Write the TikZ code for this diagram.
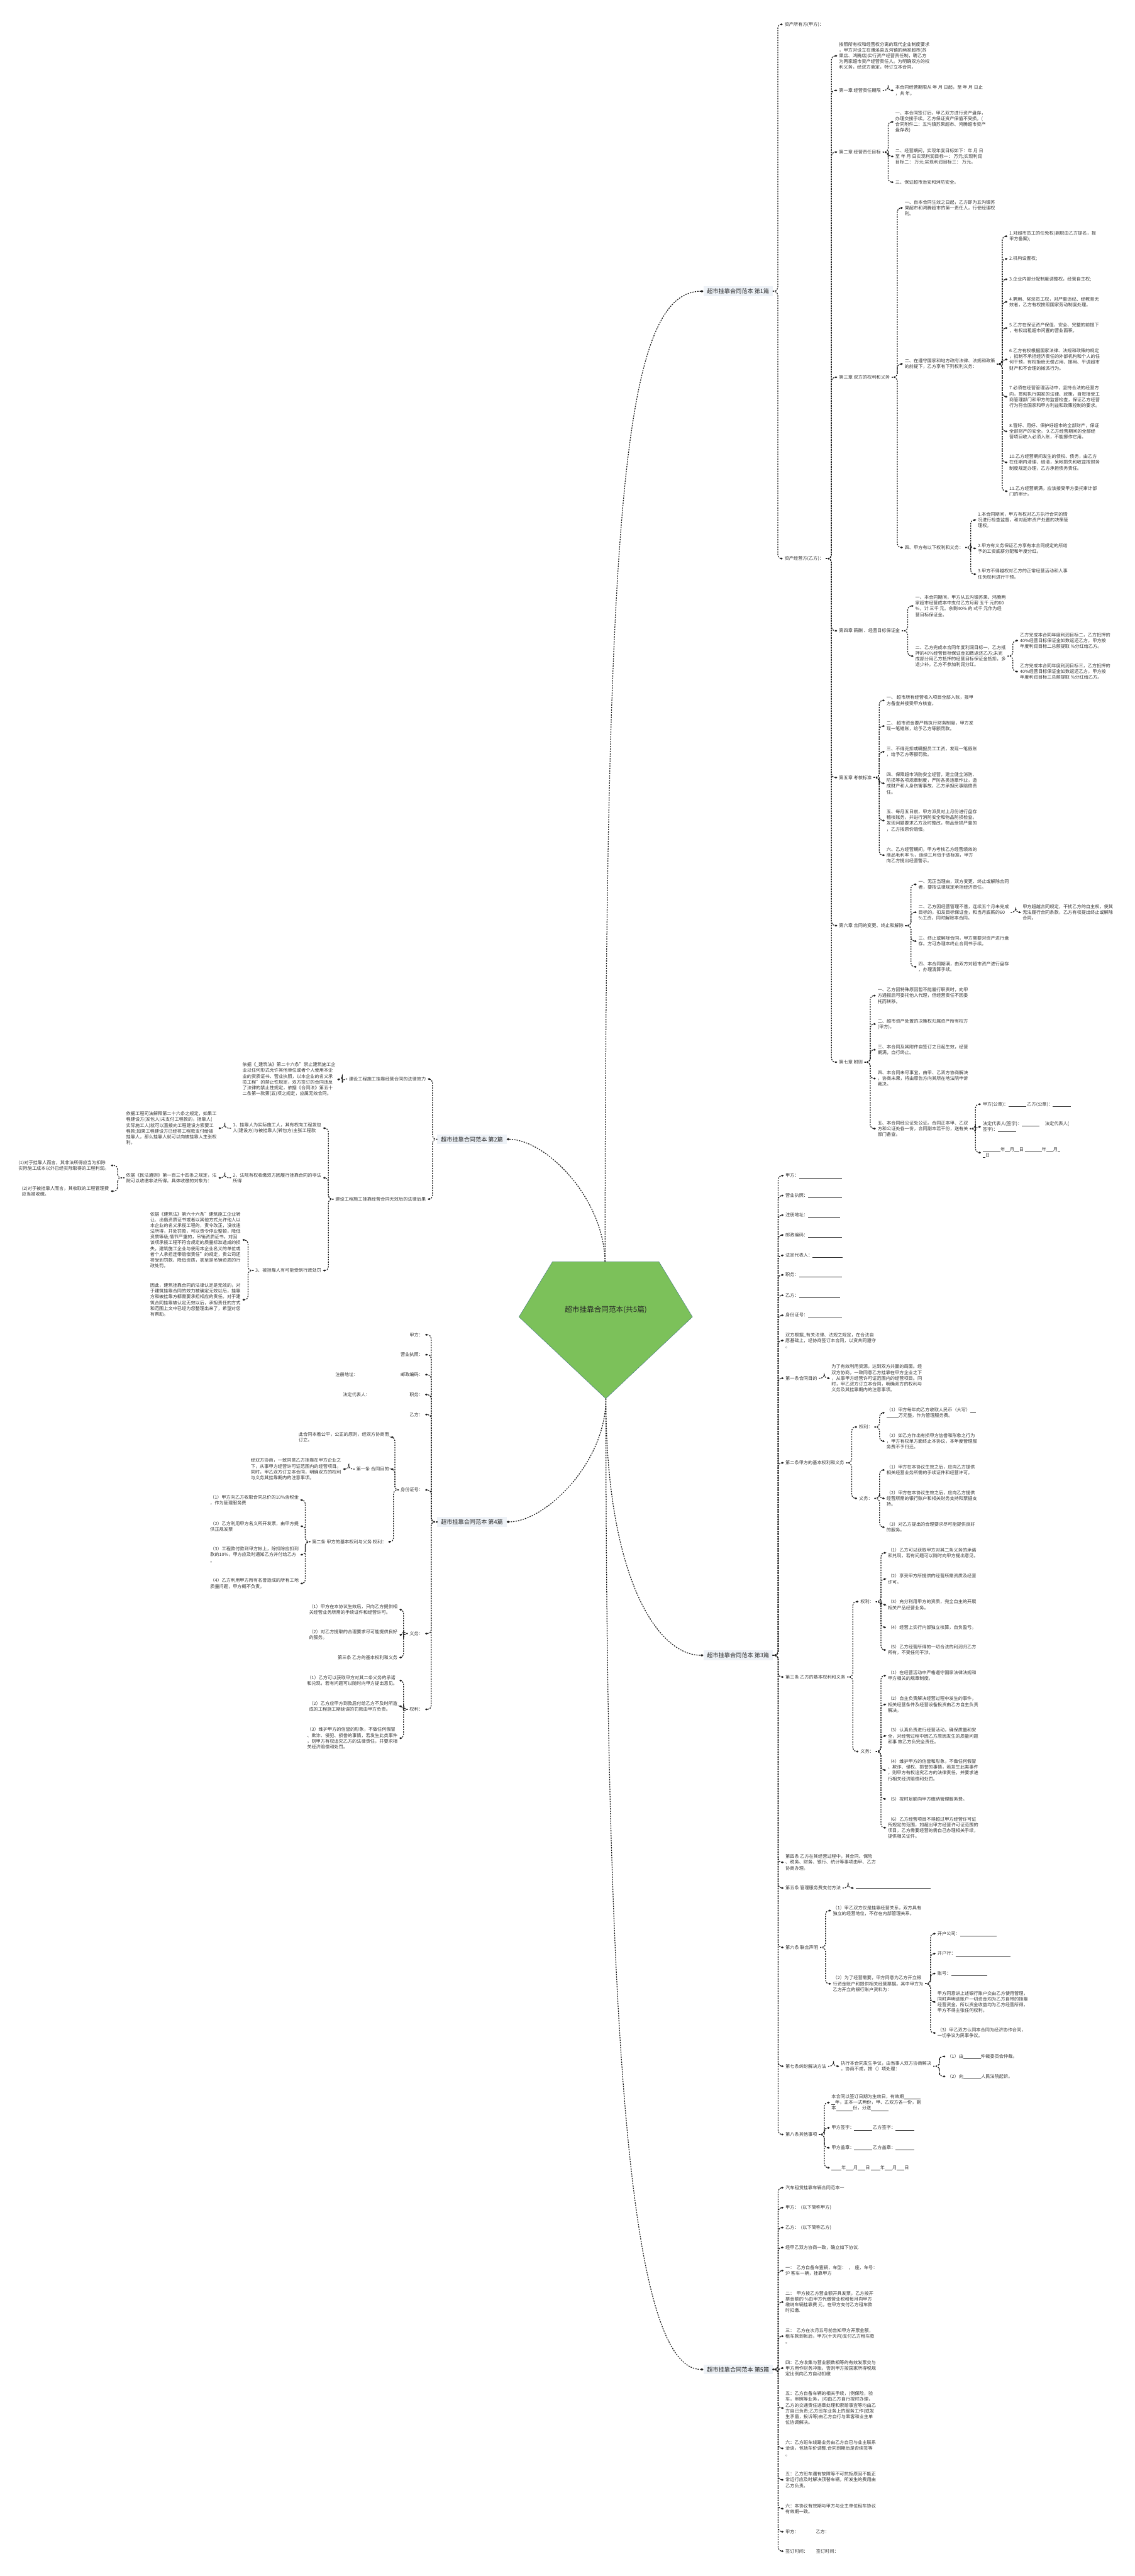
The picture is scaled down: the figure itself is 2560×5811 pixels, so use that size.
\documentclass[tikz,border=0pt]{standalone}
\usepackage{fontspec}
\setmainfont{Noto Sans CJK SC}
\usepackage{xcolor}
\usetikzlibrary{arrows.meta, calc}
\definecolor{txt}{HTML}{333333}
\definecolor{lnk}{HTML}{1E1E1E}
\definecolor{topicbg}{HTML}{EEF2F7}
\definecolor{rootfill}{HTML}{7CC15A}
\definecolor{rootline}{HTML}{3F6F86}
\newcommand\bl[1]{\rule[-1.5pt]{#1pt}{0.5pt}}

\begin{document}
\begin{tikzpicture}[x=1pt, y=-1pt,
  lf/.style={font=\fontsize{10.2}{13}\selectfont, text=txt, align=left, inner xsep=4pt, inner ysep=1pt, anchor=west},
  lfl/.style={lf, anchor=east},
  topic/.style={font=\fontsize{13}{16}\selectfont, text=black!85, fill=topicbg, inner xsep=8pt, inner ysep=5pt, anchor=west},
  topicl/.style={topic, anchor=east},
  link/.style={draw=lnk, line width=1.8pt, dash pattern=on 3pt off 2.5pt, rounded corners=8pt,
    -{Diamond[length=6pt,width=4.5pt]},
    to path={-| ($(\tikztostart)!.5!(\tikztotarget)$) |- (\tikztotarget)}},
  bond/.style={draw=lnk, line width=1.8pt, dash pattern=on 3pt off 2.5pt, -{Diamond[length=7pt,width=5.5pt]}}]
\useasboundingbox (0,0) rectangle (2560,5811);

% centre
\draw[fill=rootfill, draw=rootline, line width=0.6pt] (1246.6,2846) -- (1486.5,2846) -- (1562.3,2970.7) -- (1366.7,3155) -- (1170.8,2970.7) -- cycle;
\node[font=\fontsize{16.5}{20}\selectfont, text=black!85] (root) at (1367,2954) {超市挂靠合同范本(共5篇)};
\coordinate (rtop) at (1365,2846);
\coordinate (rbot) at (1367,3155);

\node[topic] (s1) at (1587,657) {超市挂靠合同范本 第1篇};
\node[topicl] (s2) at (1143,2570) {超市挂靠合同范本 第2篇};
\node[topic] (s3) at (1587,3734) {超市挂靠合同范本 第3篇};
\node[topicl] (s4) at (1143,3433) {超市挂靠合同范本 第4篇};
\node[topic] (s5) at (1587,5345) {超市挂靠合同范本 第5篇};

\draw[bond] (rtop) .. controls (1367,1200) and (1400,657) .. (s1.west);
\draw[bond] (rtop) .. controls (1362,2700) and (1230,2570) .. (s2.east);
\draw[bond] (rbot) .. controls (1367,3550) and (1480,3734) .. (s3.west);
\draw[bond] (rbot) .. controls (1367,3300) and (1230,3433) .. (s4.east);
\draw[bond] (rbot) .. controls (1367,4600) and (1420,5345) .. (s5.west);

% section 1
\node[lf] (s1a) at (1766,55) {资产所有方(甲方)：};
\node[lf] (s1b) at (1766,1260) {资产经营方(乙方)：};
\node[lf] (b0) at (1889,126) {按照所有权和经营权分离的现代企业制度要求\\，甲方对设立在濉溪县五沟镇的两家超市(苏\\果店、鸿腾店)实行资产经营责任制，聘乙方\\为两家超市资产经营责任人。为明确双方的权\\利义务，经双方商定，特订立本合同。};
\node[lf] (c1) at (1889,204) {第一章 经营责任期限};
\node[lf] (c1a) at (2016,204) {本合同经营期限从 年 月 日起，至 年 月 日止\\，共 年。};
\node[lf] (c2) at (1889,343) {第二章 经营责任目标};
\node[lf] (c2a) at (2016,275) {一、本合同签订后，甲乙双方进行资产盘存，\\办理交接手续。乙方保证资产保值不受损。(\\合同附件二：五沟镇苏果超市、鸿腾超市资产\\盘存表)};
\node[lf] (c2b) at (2016,353) {二、经营期间，实现年度目标如下：年 月 日\\至 年 月 日实现利润目标一： 万元;实现利润\\目标二： 万元;实现利润目标三： 万元。};
\node[lf] (c2c) at (2016,411) {三、保证超市治安和消防安全。};
\node[lf] (c3) at (1889,851) {第三章 双方的权利和义务};
\node[lf] (c3a) at (2037,469) {一、自本合同生效之日起，乙方即为五沟镇苏\\果超市和鸿腾超市的第一责任人，行使经理权\\利。};
\node[lf] (c3b) at (2037,821) {二、在遵守国家和地方政府法律、法规和政策\\的前提下，乙方享有下列权利义务：};
\node[lf] (r1) at (2273,533) {1.对超市员工的任免权(副职由乙方提名，报\\甲方备案);};
\node[lf] (r2) at (2273,584) {2.机构设置权;};
\node[lf] (r3) at (2273,630) {3.企业内部分配制度调整权，经营自主权;};
\node[lf] (r4) at (2273,681) {4.聘用、奖惩员工权，对严重违纪、经教育无\\效者，乙方有权按照国家劳动制度处理。};
\node[lf] (r5) at (2273,740) {5.乙方在保证资产保值、安全、完整的前提下\\，有权出租超市闲置的营业面积。};
\node[lf] (r6) at (2273,811) {6.乙方有权根据国家法律、法规和政策的规定\\，抵制不承担经济责任的外部机构和个人的任\\何干预，有权拒绝无偿占用、挪用、平调超市\\财产和不合理的摊派行为。};
\node[lf] (r7) at (2273,895) {7.必须在经营管理活动中，坚持合法的经营方\\向，贯彻执行国家的法律、政策，自觉接受工\\商管理部门和甲方的监督检查，保证乙方经营\\行为符合国家和甲方利益和政策控制的要求。};
\node[lf] (r8) at (2273,973) {8.管好、用好、保护好超市的全部财产，保证\\全部财产的安全。 9.乙方经营期间的全部经\\营项目收入必须入账，不能挪作它用。};
\node[lf] (r10) at (2273,1043) {10.乙方经营期间发生的债权、债务，由乙方\\在任期内清理、结清，呆帐损失和收益按财务\\制度规定办理，乙方承担债务责任。};
\node[lf] (r11) at (2273,1108) {11.乙方经营期满，应该接受甲方委托审计部\\门的审计。};
\node[lf] (c3c) at (2037,1235) {四、甲方有以下权利和义务：};
\node[lf] (q1) at (2202,1173) {1.本合同期间，甲方有权对乙方执行合同的情\\况进行检查监督，和对超市资产处置的决策管\\理权。};
\node[lf] (q2) at (2202,1237) {2.甲方有义务保证乙方享有本合同规定的所给\\予的工资底薪分配和年度分红。};
\node[lf] (q3) at (2202,1295) {3.甲方不得越权对乙方的正常经营活动和人事\\任免权利进行干预。};
\node[lf] (c4) at (1889,1423) {第四章 薪酬 、经营目标保证金};
\node[lf] (c4a) at (2061,1367) {一、本合同期间，甲方从五沟镇苏果、鸿腾两\\家超市经营成本中支付乙方月薪 五千 元的60\\\%，计 三千 元。余剩40\% 的 弍千 元作为经\\营目标保证金。};
\node[lf] (c4b) at (2061,1480) {二、乙方完成本合同年度利润目标一，乙方抵\\押的40\%经营目标保证金如数返还乙方;未完\\成部分用乙方抵押的经营目标保证金抵扣，多\\退少补。乙方不参加利润分红。};
\node[lf] (c4b1) at (2297,1445) {乙方完成本合同年度利润目标二，乙方抵押的\\40\%经营目标保证金如数返还乙方，甲方按\\年度利润目标二总额提取 \%分红给乙方。};
\node[lf] (c4b2) at (2297,1515) {乙方完成本合同年度利润目标三，乙方抵押的\\40\%经营目标保证金如数返还乙方，甲方按\\年度利润目标三总额提取 \%分红给乙方。};
\node[lf] (c5) at (1889,1754) {第五章 考核标准};
\node[lf] (c5a) at (1996,1580) {一、 超市所有经营收入项目全部入账，报甲\\方备查并接受甲方核查。};
\node[lf] (c5b) at (1996,1638) {二、 超市资金要严格执行财务制度，甲方发\\现一笔错账，给予乙方等额罚款。};
\node[lf] (c5c) at (1996,1696) {三、不得克扣或瞒报员工工资，发现一笔假账\\，给予乙方等额罚款。};
\node[lf] (c5d) at (1996,1767) {四、保障超市消防安全经营，建立健全消防、\\防损等各项规章制度，严防各类违章作业，造\\成财产和人身伤害事故，乙方承担民事赔偿责\\任。};
\node[lf] (c5e) at (1996,1851) {五、每月五日前，甲方派员对上月份进行盘存\\稽核账务，并进行消防安全和物品防损检查。\\发现问题要求乙方及时整改，物品受损严重的\\，乙方按原价赔偿。};
\node[lf] (c5f) at (1996,1929) {六、乙方经营期间，甲方考核乙方经营绩效的\\商品毛利率 \%，连续三月低于该标准，甲方\\向乙方提出经营警示。};
\node[lf] (c6) at (1889,2088) {第六章 合同的变更、终止和解除};
\node[lf] (c6a) at (2068,1995) {一、无正当理由，双方变更、终止或解除合同\\者，要按法律规定承担经济责任。};
\node[lf] (c6b) at (2068,2058) {二、乙方因经营管理不善，连续五个月未完成\\目标的，扣发目标保证金，和当月底薪的60\\\%工资，同时解除本合同。};
\node[lf] (c6b1) at (2303,2058) {甲方超越合同规定，干扰乙方的自主权，使其\\无法履行合同条款，乙方有权提出终止或解除\\合同。};
\node[lf] (c6c) at (2068,2123) {三、终止或解除合同，甲方需要对资产进行盘\\存。方可办理本终止合同书手续。};
\node[lf] (c6d) at (2068,2181) {四、本合同期满，由双方对超市资产进行盘存\\，办理清算手续。};
\node[lf] (c7) at (1889,2396) {第七章 附则};
\node[lf] (c7a) at (1976,2246) {一、乙方因特殊原因暂不能履行职责时，向甲\\方通报后可委托他人代理，但经营责任不因委\\托而转移。};
\node[lf] (c7b) at (1976,2310) {二、超市资产处置的决策权归属资产所有权方\\(甲方)。};
\node[lf] (c7c) at (1976,2368) {三、本合同及其附件自签订之日起生效，经营\\期满，自行终止。};
\node[lf] (c7d) at (1976,2433) {四、本合同未尽事宜，由甲、乙双方协商解决\\，协商未果，将由原告方向其所在地法院申诉\\裁决。};
\node[lf] (c7e) at (1976,2546) {五、本合同经公证处公证。合同正本甲、乙双\\方和公证处各一份，合同副本若干份，送有关\\部门备查。};
\node[lf] (c7e1) at (2213,2491) {甲方(公章)：\bl{40} 乙方(公章)：\bl{41}};
\node[lf] (c7e2) at (2213,2542) {法定代表人(签字)：\bl{40}\hspace{12pt}法定代表人(\\签字)：\bl{41}};
\node[lf] (c7e3) at (2213,2600) {\bl{40}年\bl{11}月\bl{11}日 \bl{38}年\bl{16}月\bl{6}\\\bl{6}日};

\foreach \c in {s1a,s1b} \draw[link] (s1.east) to (\c.west);
\foreach \c in {b0,c1,c2,c3,c4,c5,c6,c7} \draw[link] (s1b.east) to (\c.west);
\draw[link] (c1.east) to (c1a.west);
\foreach \c in {c2a,c2b,c2c} \draw[link] (c2.east) to (\c.west);
\foreach \c in {c3a,c3b,c3c} \draw[link] (c3.east) to (\c.west);
\foreach \c in {r1,r2,r3,r4,r5,r6,r7,r8,r10,r11} \draw[link] (c3b.east) to (\c.west);
\foreach \c in {q1,q2,q3} \draw[link] (c3c.east) to (\c.west);
\foreach \c in {c4a,c4b} \draw[link] (c4.east) to (\c.west);
\foreach \c in {c4b1,c4b2} \draw[link] (c4b.east) to (\c.west);
\foreach \c in {c5a,c5b,c5c,c5d,c5e,c5f} \draw[link] (c5.east) to (\c.west);
\foreach \c in {c6a,c6b,c6c,c6d} \draw[link] (c6.east) to (\c.west);
\draw[link] (c6b.east) to (c6b1.west);
\foreach \c in {c7a,c7b,c7c,c7d,c7e} \draw[link] (c7.east) to (\c.west);
\foreach \c in {c7e1,c7e2,c7e3} \draw[link] (c7e.east) to (\c.west);

% section 2
\node[lfl] (e1) at (965,2434) {建设工程施工挂靠经营合同的法律效力};
\node[lfl] (e1a) at (761,2435) {依据《\_建筑法》第二十六条"禁止建筑施工企\\业以任何形式允许其他单位或者个人使用本企\\业的资质证书、营业执照，以本企业的名义承\\揽工程"的禁止性规定，双方签订的合同违反\\了法律的禁止性规定，依据《合同法》第五十\\二条第一款第(五)项之规定，应属无效合同。};
\node[lfl] (e2) at (965,2705) {建设工程施工挂靠经营合同无效后的法律后果};
\node[lfl] (e2a) at (729,2545) {1、挂靠人为实际施工人，其有权向工程发包\\人(建设方)与被挂靠人(转包方)主张工程款};
\node[lfl] (e2a1) at (493,2545) {依据工程司法解释第二十六条之规定，如果工\\程建设方(发包人)未支付工程款的，挂靠人(\\实际施工人)就可以直接向工程建设方索要工\\程款;如果工程建设方已经将工程款支付给被\\挂靠人，那么挂靠人就可以向被挂靠人主张权\\利。};
\node[lfl] (e2b) at (729,2657) {2、法院有权收缴双方因履行挂靠合同的非法\\所得};
\node[lfl] (e2b1) at (493,2657) {依据《民法通则》第一百三十四条之规定，法\\院可以收缴非法所得。具体收缴的对象为：};
\node[lfl] (e2b1a) at (250,2629) {(1)对于挂靠人而言，其非法所得应当为扣除\\实际施工成本以外已经实际取得的工程利润。};
\node[lfl] (e2b1b) at (250,2687) {(2)对于被挂靠人而言，其收取的工程管理费\\应当被收缴。};
\node[lfl] (e2c) at (729,2866) {3、被挂靠人有可能受到行政处罚};
\node[lfl] (e2c1) at (547,2797) {依据《建筑法》第六十六条"建筑施工企业转\\让、出借资质证书或者以其他方式允许他人以\\本企业的名义承揽工程的，责令改正，没收违\\法所得，并处罚款，可以责令停业整顿，降低\\资质等级;情节严重的，吊销资质证书。对因\\该项承揽工程不符合规定的质量标准造成的损\\失，建筑施工企业与使用本企业名义的单位或\\者个人承担连带赔偿责任"的规定，贵公司还\\将受到罚款、降低资质，甚至是吊销资质的行\\政处罚。};
\node[lfl] (e2c2) at (547,2932) {因此，建筑挂靠合同的法律认定是无效的，对\\于建筑挂靠合同的效力被确定无效以后，挂靠\\方和被挂靠方都需要承担相应的责任。对于建\\筑合同挂靠被认定无效以后，承担责任的方式\\和范围上文中已经为您整理出来了，希望对您\\有帮助。};

\foreach \c in {e1,e2} \draw[link] (s2.west) to (\c.east);
\draw[link] (e1.west) to (e1a.east);
\foreach \c in {e2a,e2b,e2c} \draw[link] (e2.west) to (\c.east);
\draw[link] (e2a.west) to (e2a1.east);
\draw[link] (e2b.west) to (e2b1.east);
\foreach \c in {e2b1a,e2b1b} \draw[link] (e2b1.west) to (\c.east);
\foreach \c in {e2c1,e2c2} \draw[link] (e2c.west) to (\c.east);

% section 3
\node[lf] (d1) at (1768,2652) {甲方：\bl{97}};
\node[lf] (d2) at (1768,2697) {营业执照：\bl{77}};
\node[lf] (d3) at (1768,2741) {注册地址：\bl{72}};
\node[lf] (d4) at (1768,2786) {邮政编码：\bl{77}};
\node[lf] (d5) at (1768,2832) {法定代表人：\bl{68}};
\node[lf] (d6) at (1768,2876) {职务：\bl{97}};
\node[lf] (d7) at (1768,2922) {乙方：\bl{92}};
\node[lf] (d8) at (1768,2967) {身份证号：\bl{77}};
\node[lf] (d9) at (1768,3024) {双方根据\_有关法律、法规之规定，在合法自\\愿基础上，经协商签订本合同，以资共同遵守\\。};
\node[lf] (d10) at (1768,3109) {第一条合同目的};
\node[lf] (d10a) at (1872,3109) {为了有效利用资源，达到双方共赢的局面。经\\双方协商，一致同意乙方挂靠在甲方企业之下\\，从事甲方经营许可证范围内的经营项目。同\\时，甲乙双方订立本合同，明确双方的权利与\\义务及其挂靠期内的注意事项。};
\node[lf] (d11) at (1768,3300) {第二条甲方的基本权利和义务};
\node[lf] (d11a) at (1934,3219) {权利：};
\node[lf] (d11a1) at (1996,3187) {（1）甲方每年向乙方收取人民币（大写）\bl{12}\\\bl{27}万元整，作为管理服务费。};
\node[lf] (d11a2) at (1996,3251) {（2）如乙方作出有损甲方信誉和形象之行为\\，甲方有权单方面终止本协议，本年度管理服\\务费不予归还。};
\node[lf] (d11b) at (1934,3380) {义务：};
\node[lf] (d11b1) at (1996,3316) {（1）甲方在本协议生效之后，应向乙方提供\\相关经营业务所需的手续证件和经营许可。};
\node[lf] (d11b2) at (1996,3380) {（2）甲方在本协议生效之后，应向乙方提供\\经营所需的银行账户和相关财务支持和票据支\\持。};
\node[lf] (d11b3) at (1996,3445) {（3）对乙方提出的合理要求尽可能提供良好\\的服务。};
\node[lf] (d12) at (1768,3783) {第三条 乙方的基本权利和义务};
\node[lf] (d12a) at (1937,3613) {权利：};
\node[lf] (d12a1) at (1999,3503) {（1）乙方可以获取甲方对其二条义务的承诺\\和兑现，若有问题可以随时向甲方提出意见。};
\node[lf] (d12a2) at (1999,3562) {（2）享受甲方所提供的经营所需资质及经营\\许可。};
\node[lf] (d12a3) at (1999,3620) {（3）充分利用甲方的资质，完全自主的开展\\相关产品经营业务。};
\node[lf] (d12a4) at (1999,3671) {（4）经营上实行内部独立核算，自负盈亏。};
\node[lf] (d12a5) at (1999,3722) {（5）乙方经营所得的一切合法的利润归乙方\\所有，不受任何干涉。};
\node[lf] (d12b) at (1937,3951) {义务：};
\node[lf] (d12b1) at (1999,3780) {（1）在经营活动中严格遵守国家法律法规和\\甲方相关的规章制度。};
\node[lf] (d12b2) at (1999,3845) {（2）自主负责解决经营过程中发生的事件，\\相关经营条件及经营设备投资由乙方自主负责\\解决。};
\node[lf] (d12b3) at (1999,3916) {（3）认真负责进行经营活动，确保质量和安\\全，对经营过程中因乙方原因发生的质量问题\\和事 故乙方负完全责任。};
\node[lf] (d12b4) at (1999,3993) {（4）维护甲方的信誉和形象，不做任何假冒\\、欺诈、侵权、损誉的事情，若发生此类事件\\，则甲方有权追究乙方的法律责任，并要求进\\行相关经济赔偿和处罚。};
\node[lf] (d12b5) at (1999,4058) {（5）按时足额向甲方缴纳管理服务费。};
\node[lf] (d12b6) at (1999,4123) {（6）乙方经营项目不得超过甲方经营许可证\\所规定的范围，如超出甲方经营许可证范围的\\项目，乙方需要经营的需自己办理相关手续，\\提供相关证件。};
\node[lf] (d13) at (1768,4201) {第四条 乙方在其经营过程中，其合同、保险\\、税务、财务、银行、统计等事项由甲、乙方\\协商办理。};
\node[lf] (d14) at (1768,4259) {第五条 管理服务费支付方法};
\node[lf] (d14a) at (1926,4259) {\bl{169}};
\node[lf] (d15) at (1768,4393) {第六条 联合声明};
\node[lf] (d15a) at (1875,4310) {（1）甲乙双方仅是挂靠经营关系，双方具有\\独立的经营地位，不存在内部管理关系。};
\node[lf] (d15b) at (1875,4475) {（2）为了经营需要，甲方同意为乙方开立银\\行资金账户和提供相关经营票据。其中甲方为\\乙方开立的银行账户资料为：};
\node[lf] (d15b1) at (2111,4362) {开户公司：\bl{83}};
\node[lf] (d15b2) at (2111,4407) {开户行：\bl{124}};
\node[lf] (d15b3) at (2111,4452) {账号：\bl{82}};
\node[lf] (d15b4) at (2111,4516) {甲方同意讲上述银行账户交由乙方使用管理，\\同时声明该账户一切资金均为乙方自带的挂靠\\经营资金，所以资金收益均为乙方经营所得，\\甲方不得主张任何权利。};
\node[lf] (d15b5) at (2111,4586) {（3）甲乙双方认同本合同为经济协作合同，\\一切争议为民事争议。};
\node[lf] (d16) at (1768,4661) {第七条纠纷解决方法};
\node[lf] (d16a) at (1893,4661) {执行本合同发生争议，由当事人双方协商解决\\。协商不成，按（）项处理：};
\node[lf] (d16a1) at (2133,4639) {（1）由\bl{40}仲裁委员会仲裁。};
\node[lf] (d16a2) at (2133,4684) {（2）向\bl{40}人民法院起诉。};
\node[lf] (d17) at (1768,4815) {第八条其他事项};
\node[lf] (d17a) at (1872,4743) {本合同以签订日期为生效日，有效期\bl{37}\\\bl{8}年，正本一式两份，甲、乙双方各一份，副\\本\bl{38}份，分送\bl{40}};
\node[lf] (d17b) at (1872,4800) {甲方签字：\bl{40} 乙方签字：\bl{42}};
\node[lf] (d17c) at (1872,4845) {甲方盖章：\bl{40} 乙方盖章：\bl{42}};
\node[lf] (d17d) at (1872,4890) {\bl{22}年\bl{17}月\bl{17}日 \bl{21}年\bl{17}月\bl{17}日};

\foreach \c in {d1,d2,d3,d4,d5,d6,d7,d8,d9,d10,d11,d12,d13,d14,d15,d16,d17} \draw[link] (s3.east) to (\c.west);
\draw[link] (d10.east) to (d10a.west);
\foreach \c in {d11a,d11b} \draw[link] (d11.east) to (\c.west);
\foreach \c in {d11a1,d11a2} \draw[link] (d11a.east) to (\c.west);
\foreach \c in {d11b1,d11b2,d11b3} \draw[link] (d11b.east) to (\c.west);
\foreach \c in {d12a,d12b} \draw[link] (d12.east) to (\c.west);
\foreach \c in {d12a1,d12a2,d12a3,d12a4,d12a5} \draw[link] (d12a.east) to (\c.west);
\foreach \c in {d12b1,d12b2,d12b3,d12b4,d12b5,d12b6} \draw[link] (d12b.east) to (\c.west);
\draw[link] (d14.east) to (d14a.west);
\foreach \c in {d15a,d15b} \draw[link] (d15.east) to (\c.west);
\foreach \c in {d15b1,d15b2,d15b3,d15b4,d15b5} \draw[link] (d15b.east) to (\c.west);
\draw[link] (d16.east) to (d16a.west);
\foreach \c in {d16a1,d16a2} \draw[link] (d16a.east) to (\c.west);
\foreach \c in {d17a,d17b,d17c,d17d} \draw[link] (d17.east) to (\c.west);

% section 4
\node[lfl] (f1) at (959,3011) {甲方：};
\node[lfl] (f2) at (959,3056) {营业执照：};
\node[lfl] (f3) at (959,3101) {邮政编码：};
\node[lfl] (f3a) at (812,3101) {注册地址：};
\node[lfl] (f4) at (959,3146) {职务：};
\node[lfl] (f4a) at (839,3146) {法定代表人：};
\node[lfl] (f5) at (959,3191) {乙方：};
\node[lfl] (f6) at (959,3361) {身份证号：};
\node[lfl] (f6a) at (882,3242) {此合同本着公平，公正的原则，经双方协商而\\订立。};
\node[lfl] (f6b) at (882,3314) {第一条 合同目的};
\node[lfl] (f6b1) at (774,3314) {经双方协商，一致同意乙方挂靠在甲方企业之\\下，从事甲方经营许可证范围内的经营项目。\\同时，甲乙双方订立本合同，明确双方的权利\\与义务其挂靠期内的注意事项。};
\node[lfl] (f6c) at (876,3478) {第二条 甲方的基本权利与义务 权利：};
\node[lfl] (f6c1) at (678,3384) {（1）甲方向乙方收取合同总价的10\%含税金\\，作为管理服务费};
\node[lfl] (f6c2) at (678,3443) {（2）乙方利用甲方名义所开发票，由甲方提\\供正规发票};
\node[lfl] (f6c3) at (678,3507) {（3）工程款付款到甲方帐上，除扣除应扣到\\款的10\%，甲方应及时通知乙方并付给乙方\\。};
\node[lfl] (f6c4) at (678,3572) {（4）乙方利用甲方所有名誉造成的所有工地\\质量问题，甲方概不负责。};
\node[lfl] (f7) at (959,3685) {义务：};
\node[lfl] (f7a) at (901,3631) {（1）甲方在本协议生效后，只向乙方提供相\\关经营业务所需的手续证件和经营许可。};
\node[lfl] (f7b) at (901,3688) {（2）对乙方提取的合理要求尽可能提供良好\\的服务。};
\node[lfl] (f7c) at (901,3739) {第三条 乙方的基本权利和义务};
\node[lfl] (f8) at (959,3856) {权利：};
\node[lfl] (f8a) at (901,3791) {（1）乙方可以获取甲方对其二条义务的承诺\\和兑现，若有问题可以随时向甲方提出意见。};
\node[lfl] (f8b) at (901,3849) {（2）乙方应甲方到款后付给乙方不及时所造\\成的工程施工期延误的罚款由甲方负责。};
\node[lfl] (f8c) at (901,3921) {（3）维护甲方的信誉的形象，不做任何假冒\\、欺诈、侵犯、损誉的事情，若发生此类事件\\，则甲方有权追究乙方的法律责任，并要求相\\关经济赔偿和处罚。};

\foreach \c in {f1,f2,f3,f4,f5,f6,f7,f8} \draw[link] (s4.west) to (\c.east);
\foreach \c in {f6a,f6b,f6c} \draw[link] (f6.west) to (\c.east);
\draw[link] (f6b.west) to (f6b1.east);
\foreach \c in {f6c1,f6c2,f6c3,f6c4} \draw[link] (f6c.west) to (\c.east);
\foreach \c in {f7a,f7b,f7c} \draw[link] (f7.west) to (\c.east);
\foreach \c in {f8a,f8b,f8c} \draw[link] (f8.west) to (\c.east);

% section 5
\node[lf] (g1) at (1768,4935) {汽车租赁挂靠车辆合同范本一};
\node[lf] (g2) at (1768,4980) {甲方：\ \ (以下简称甲方)};
\node[lf] (g3) at (1768,5025) {乙方：\ \ (以下简称乙方)};
\node[lf] (g4) at (1768,5070) {经甲乙双方协商一致，确立如下协议.};
\node[lf] (g5) at (1768,5122) {一：\ \ 乙方自备车壹辆，车型：\ \ ，\ \ 座，车号：\\沪 客车一辆，挂靠甲方};
\node[lf] (g6) at (1768,5193) {二：\ \ 甲方按乙方营业额开具发票，乙方按开\\票金额的 \%由甲方代缴营业税和每月向甲方\\缴纳车辆挂靠费 元，在甲方支付乙方租车款\\时扣缴.};
\node[lf] (g7) at (1768,5270) {三：\ \ 乙方在次月五号前告知甲方开票金额，\\租车款到帐后，甲方(十天内)支付乙方租车款\\。};
\node[lf] (g8) at (1768,5342) {四：乙方收集与营业额数相等的有效发票交与\\甲方用作财务冲账，否则甲方按国家所得税规\\定比例向乙方自动扣缴};
\node[lf] (g9) at (1768,5432) {五：乙方自备车辆的相关手续，(例保险，验\\车，审照等业务，)均由乙方自行按时办理，\\乙方的交通责任违章处理和索赔事宜等均由乙\\方自已负责;乙方班车业务上的服务工作(或发\\生矛盾，投诉等)由乙方自行与乘客和业主单\\位协调解决。};
\node[lf] (g10) at (1768,5523) {六：乙方班车线路业务由乙方自已与业主联系\\洽谈，包括车价调整.合同到期后是否续签等\\。};
\node[lf] (g11) at (1768,5594) {五：乙方班车遇有故障等不可抗拒原因不能正\\常运行应及时解决顶替车辆，所发生的费用由\\乙方负责。};
\node[lf] (g12) at (1768,5659) {六：本协议有效期与甲方与业主单位租车协议\\有效期一致。};
\node[lf] (g13) at (1768,5711) {甲方：\hspace{38pt}乙方：};
\node[lf] (g14) at (1768,5755) {签订时间：\hspace{18pt}签订时间：};

\foreach \c in {g1,g2,g3,g4,g5,g6,g7,g8,g9,g10,g11,g12,g13,g14} \draw[link] (s5.east) to (\c.west);
\end{tikzpicture}
\end{document}
